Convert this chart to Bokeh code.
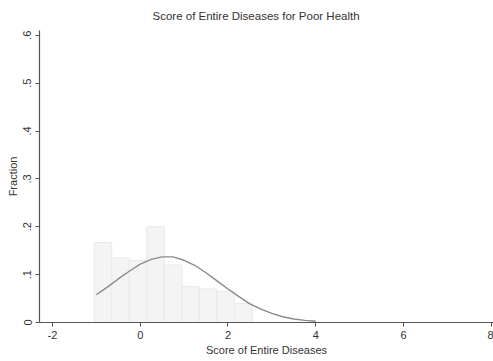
from bokeh.plotting import figure
from bokeh.models import FixedTicker, Range1d
from bokeh.embed import file_html
from bokeh.resources import INLINE

# Histogram bins (left edge, right edge, fraction)
bin_left = [-1.05, -0.65, -0.25, 0.15, 0.55, 0.95, 1.35, 1.75, 2.15]
bin_right = [-0.65, -0.25, 0.15, 0.55, 0.95, 1.35, 1.75, 2.15, 2.55]
bin_frac = [0.167, 0.135, 0.13, 0.2, 0.12, 0.075, 0.07, 0.065, 0.04]

# Normal curve
curve_x = [-1.0, -0.75, -0.5, -0.25, 0.0, 0.25, 0.5, 0.75, 1.0, 1.25, 1.5, 1.75, 2.0, 2.25, 2.5, 2.75, 3.0, 3.25, 3.5, 3.75, 4.0]
curve_y = [0.058, 0.074, 0.091, 0.107, 0.122, 0.132, 0.137, 0.137, 0.130, 0.119, 0.104, 0.087, 0.070, 0.054, 0.039, 0.028, 0.019, 0.012, 0.0074, 0.0045, 0.0027]

x_ticks = [-2, 0, 2, 4, 6, 8]
y_ticks = [0, 0.1, 0.2, 0.3, 0.4, 0.5, 0.6]
y_tick_labels = ["0", ".1", ".2", ".3", ".4", ".5", ".6"]

FONT = "Liberation Sans"
AX = "#555555"
TX = "#333333"

p = figure(width=493, height=358, output_backend="svg", toolbar_location=None,
           x_range=Range1d(-2.295, 8.05), y_range=Range1d(0, 0.61),
           min_border_left=39, min_border_right=0, min_border_top=30, min_border_bottom=36,
           title="Score of Entire Diseases for Poor Health")
p.outline_line_color = None
p.grid.grid_line_color = None
p.background_fill_color = "white"

p.title.text_font = FONT
p.title.text_font_size = "11.5px"
p.title.text_font_style = "normal"
p.title.text_color = TX
p.title.align = "left"
p.title.offset = 113
p.title.standoff = 13
p.title.vertical_align = "top"

p.quad(left=bin_left, right=bin_right, bottom=0, top=bin_frac,
       fill_color="#f4f4f4", line_color="#e9e9e9", line_width=1)
p.line(curve_x, curve_y, line_color="#8a8a8a", line_width=1.4)

p.xaxis.ticker = FixedTicker(ticks=x_ticks)
p.yaxis.ticker = FixedTicker(ticks=y_ticks)
p.yaxis.major_label_overrides = {t: l for t, l in zip(y_ticks, y_tick_labels)}
p.xaxis.major_label_overrides = {t: str(t) for t in x_ticks}
p.yaxis.major_label_orientation = "vertical"

for ax in (p.xaxis, p.yaxis):
    ax.axis_line_color = AX
    ax.axis_line_width = 1.2
    ax.major_tick_line_color = AX
    ax.major_tick_out = 4
    ax.major_tick_in = 0
    ax.minor_tick_line_color = None
    ax.major_label_text_font = FONT
    ax.major_label_text_font_size = "11px"
    ax.major_label_text_color = TX
    ax.major_label_standoff = 4
    ax.axis_label_text_font = FONT
    ax.axis_label_text_font_size = "11px"
    ax.axis_label_text_font_style = "normal"
    ax.axis_label_text_color = TX
    ax.axis_label_standoff = 2

p.xaxis.axis_label = "Score of Entire Diseases"
p.yaxis.axis_label = "Fraction"

open("out.html", "w").write(file_html(p, INLINE))
